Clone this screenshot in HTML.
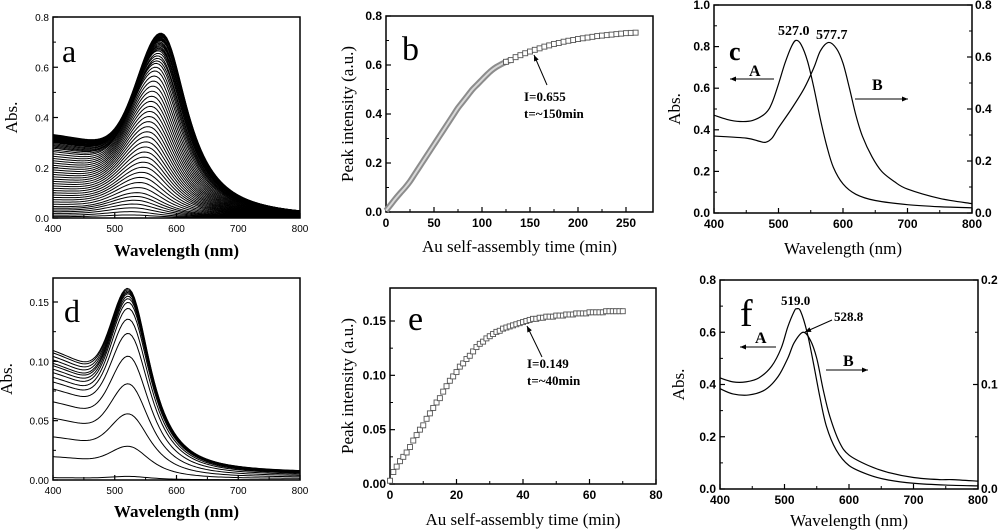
<!DOCTYPE html>
<html><head><meta charset="utf-8"><style>
html,body{margin:0;padding:0;background:#fff;}
svg{display:block;}
</style></head><body>
<svg id="fig" width="1000" height="532" viewBox="0 0 1000 532" xmlns="http://www.w3.org/2000/svg"></svg>
<script>
// ---- Panel a data: peak heights & peak wavelengths of spectra family ----
const aPeaks=[0.012,0.025,0.04,0.055,0.07,0.085,0.1,0.12,0.14,0.16,0.18,0.2,0.22,0.24,0.26,0.28,0.3,0.32,0.34,0.36,0.38,0.4,0.42,0.44,0.46,0.48,0.5,0.52,0.54,0.56,0.58,0.595,0.61,0.62,0.63,0.64,0.65,0.66,0.665,0.67,0.675,0.68,0.685,0.69,0.695,0.7,0.703,0.706,0.709,0.712,0.715,0.718,0.721,0.724,0.727,0.73];
const aPeakPos=[530,532,534,536,538,540,542,544,546,548,550,552,553,554,555,556,557,558,559,560,561,562,563,564,565,566,567,568,569,570,571,572,573,574,575,575,576,576,577,577,577,578,578,578,578,579,579,579,579,579,580,580,580,580,580,580];
// ---- Panel d data ----
const dPeaks=[0.003,0.028,0.055,0.08,0.103,0.122,0.134,0.143,0.148,0.151,0.153,0.155,0.156,0.157,0.158,0.159];
const dBase=[0.002,0.02,0.037,0.053,0.067,0.078,0.084,0.088,0.092,0.095,0.098,0.1,0.103,0.106,0.109,0.111];
// ---- Panel b data ----
const bTime=[0,5,10,15,20,25,30,35,40,45,50,55,60,65,70,75,80,85,90,95,100,105,110,115,120,125,130,135,140,145,150,155,160,165,170,175,180,185,190,195,200,205,210,215,220,225,230,235,240,245,250,255,260];
const bVal=[0.005,0.03,0.055,0.078,0.1,0.125,0.155,0.185,0.215,0.245,0.275,0.305,0.335,0.365,0.395,0.425,0.45,0.475,0.5,0.52,0.54,0.56,0.578,0.592,0.603,0.613,0.62,0.632,0.64,0.648,0.655,0.662,0.668,0.675,0.68,0.686,0.69,0.695,0.699,0.702,0.706,0.709,0.712,0.715,0.718,0.72,0.722,0.724,0.726,0.728,0.73,0.731,0.732];
// ---- Panel e data ----
const eTime=[0,1,2,3,4,5,6,7,8,9,10,11,12,13,14,15,16,17,18,19,20,21,22,23,24,25,26,27,28,29,30,31,32,33,34,35,36,37,38,39,40,41,42,43,44,45,46,47,48,49,50,51,52,53,54,55,56,57,58,59,60,61,62,63,64,65,66,67,68,69,70];
const eVal=[0.003,0.011,0.016,0.021,0.025,0.029,0.034,0.04,0.045,0.05,0.054,0.06,0.065,0.07,0.075,0.079,0.085,0.09,0.095,0.099,0.103,0.108,0.111,0.115,0.118,0.122,0.126,0.129,0.131,0.134,0.136,0.138,0.14,0.141,0.143,0.144,0.145,0.146,0.147,0.148,0.149,0.15,0.151,0.152,0.152,0.153,0.153,0.154,0.154,0.154,0.155,0.155,0.155,0.156,0.156,0.156,0.157,0.157,0.157,0.157,0.158,0.158,0.158,0.158,0.158,0.159,0.159,0.159,0.159,0.159,0.159];
// ---- Panel c data ----
const cAWl=[400,420,440,460,480,490,500,510,520,527,535,545,555,565,575,585,600,620,650,700,750,800];
const cAVal=[0.47,0.45,0.44,0.445,0.48,0.53,0.62,0.72,0.8,0.83,0.81,0.73,0.6,0.45,0.32,0.22,0.14,0.09,0.06,0.04,0.03,0.025];
const cBWl=[400,450,470,480,490,500,520,540,555,565,577.7,590,600,610,620,630,645,660,680,700,750,800];
const cBVal=[0.296,0.288,0.276,0.272,0.288,0.328,0.4,0.48,0.56,0.624,0.656,0.632,0.576,0.48,0.376,0.296,0.216,0.16,0.12,0.092,0.056,0.036];
// ---- Panel f data ----
const fAWl=[400,420,440,460,480,495,505,515,519,525,535,545,555,565,580,600,630,660,700,750,800];
const fAVal=[0.425,0.41,0.41,0.425,0.47,0.54,0.62,0.68,0.69,0.68,0.6,0.48,0.35,0.24,0.15,0.09,0.055,0.035,0.022,0.015,0.012];
const fBWl=[400,420,445,470,490,505,515,528.8,540,550,560,570,585,600,630,660,700,740,760,800];
const fBVal=[0.096,0.091,0.09,0.095,0.1075,0.125,0.14,0.15,0.1425,0.125,0.095,0.07,0.045,0.0325,0.0225,0.016,0.011,0.009,0.009,0.0075];

const NS='http://www.w3.org/2000/svg';
const svg=document.getElementById('fig');
function mk(tag,attrs,parent,text){const e=document.createElementNS(NS,tag);for(const k in attrs)e.setAttribute(k,attrs[k]);if(text!==undefined)e.textContent=text;(parent||svg).appendChild(e);return e;}
function scale(d0,d1,r0,r1){return v=>r0+(v-d0)*(r1-r0)/(d1-d0);}

function axes(g,o){
  const X=scale(o.xd[0],o.xd[1],o.x0,o.x1), Y=scale(o.yd[0],o.yd[1],o.y0,o.y1);
  const fr=mk('rect',{x:o.x0,y:o.top,width:o.right-o.x0,height:o.y0-o.top,fill:'none',stroke:'#000','stroke-width':1.5},g);
  
  
  const tf=o.bold?'font-family:"Liberation Sans",sans-serif;font-weight:bold;font-size:12px':'font-family:"Liberation Sans",sans-serif;font-size:10px';
  o.xt.forEach((v,i)=>{const px=X(v);
    mk('line',{x1:px,x2:px,y1:o.y0,y2:o.y0-5,stroke:'#000','stroke-width':1.2},g);
    if(i<o.xt.length-1){const pm=X(v+(o.xt[1]-o.xt[0])/2);if(pm<o.right)mk('line',{x1:pm,x2:pm,y1:o.y0,y2:o.y0-3,stroke:'#000'},g);}
    const t=mk('text',{x:px,y:o.y0+(o.bold?15:14),'text-anchor':'middle',style:tf},g,o.xfmt(v));
    
    
  });
  o.yt.forEach((v,i)=>{const py=Y(v);
    mk('line',{x1:o.x0,x2:o.x0+5,y1:py,y2:py,stroke:'#000','stroke-width':1.2},g);
    if(i<o.yt.length-1){const pm=Y(v+(o.yt[1]-o.yt[0])/2);if(pm>o.top)mk('line',{x1:o.x0,x2:o.x0+3,y1:pm,y2:pm,stroke:'#000'},g);}
    const t=mk('text',{x:o.x0-4,y:py+4,'text-anchor':'end',style:tf},g,o.yfmt(v));
    
    
  });
  const xt=mk('text',{x:(o.x0+o.right)/2,y:o.xtitleY,'text-anchor':'middle',style:"font-family:'Liberation Serif',serif;font-size:17px"+(o.titleBold?';font-weight:bold':'')},g,o.xtitle);
  
  
  const yt=mk('text',{x:0,y:0,'text-anchor':'middle',transform:`translate(${o.ytitleX},${(o.y0+o.top)/2}) rotate(-90)`,style:"font-family:'Liberation Serif',serif;font-size:17px"},g,o.ytitle);
  
  
  return {X,Y};
}
function letter(g,x,y,s,size,bold){const t=mk('text',{x:x,y:y,style:`font-family:'Liberation Serif',serif;font-size:${size}px${bold?';font-weight:bold':''}`},g,s);
  
  }
function ann(g,x,y,s,size){const t=mk('text',{x:x,y:y,style:`font-family:'Liberation Serif',serif;font-weight:bold;font-size:${size||13}px`},g,s);
  
  }
function arrow(g,x1,y1,x2,y2){
  const l=mk('line',{x1,y1,x2,y2,stroke:'#000','stroke-width':1},g);
  
  
  const a=Math.atan2(y2-y1,x2-x1),L=6,w=2.5;
  const p=[[x2,y2],[x2-L*Math.cos(a)+w*Math.sin(a),y2-L*Math.sin(a)-w*Math.cos(a)],[x2-L*Math.cos(a)-w*Math.sin(a),y2-L*Math.sin(a)+w*Math.cos(a)]];
  mk('polygon',{points:p.map(q=>q.join(',')).join(' '),fill:'#000'},g);
}
function line(g,xs,ys,X,Y,name,w,smooth){
  const P=xs.map((x,i)=>[X(x),Y(ys[i])]);
  let d='M'+P[0][0].toFixed(2)+','+P[0][1].toFixed(2);
  for(let i=0;i<P.length-1;i++){
    if(smooth){const p0=P[Math.max(i-1,0)],p1=P[i],p2=P[i+1],p3=P[Math.min(i+2,P.length-1)];
      const c1=[p1[0]+(p2[0]-p0[0])/6,p1[1]+(p2[1]-p0[1])/6],c2=[p2[0]-(p3[0]-p1[0])/6,p2[1]-(p3[1]-p1[1])/6];
      d+=`C${c1[0].toFixed(2)},${c1[1].toFixed(2)} ${c2[0].toFixed(2)},${c2[1].toFixed(2)} ${p2[0].toFixed(2)},${p2[1].toFixed(2)}`;}
    else d+='L'+P[i+1][0].toFixed(2)+','+P[i+1][1].toFixed(2);
  }
  const p=mk('path',{d,fill:'none',stroke:'#000','stroke-width':w||1,'stroke-linejoin':'round'},g);
  
  
  return p;
}
const fmt1=v=>v.toFixed(1), fmt0=v=>String(v), fmt2=v=>v.toFixed(2);
const wl=[];for(let l=400;l<=800;l+=4)wl.push(l);

function spec(l,pk,pos,b0,wl1,wr,slope,mid,sw){
  const base=x=>b0*(1-slope*(x-400)/80)/(1+Math.exp((x-mid)/sw));
  const A=Math.max(pk-base(pos),0);
  const d=l-pos;
  const p= d<0? A*Math.exp(-(d/wl1)*(d/wl1)) : A/(1+(d/wr)*(d/wr));
  return base(l)+p;
}

// ===== Panel a =====
{const g=mk('g',{});
 const {X,Y}=axes(g,{x0:53,x1:300,right:300,y0:218,y1:17,top:17,xd:[400,800],yd:[0,0.8],xt:[400,500,600,700,800],yt:[0,0.2,0.4,0.6,0.8],xfmt:fmt0,yfmt:fmt1,bold:false,xtitle:'Wavelength (nm)',xtitleY:256,ytitle:'Abs.',ytitleX:17,titleBold:true});
 aPeaks.forEach((pk,i)=>{const ys=wl.map(l=>spec(l,pk,aPeakPos[i],pk*0.46,58,48,0.06,560,35));line(g,wl,ys,X,Y,'spectrum-a',1);});
 letter(g,62,62,'a',32,false);}

// ===== Panel d =====
{const g=mk('g',{});
 const {X,Y}=axes(g,{x0:53,x1:300,right:300,y0:480,y1:302,top:278,xd:[400,800],yd:[0,0.15],xt:[400,500,600,700,800],yt:[0,0.05,0.1,0.15],xfmt:fmt0,yfmt:fmt2,bold:false,xtitle:'Wavelength (nm)',xtitleY:517,ytitle:'Abs.',ytitleX:12,titleBold:true});
 dPeaks.forEach((pk,i)=>{const c=dBase[i]*0.05;const ys=wl.map(l=>spec(l,pk-c,527,dBase[i]-c,42,40,0.1,520,30)+c);line(g,wl,ys,X,Y,'spectrum-d',1);});
 letter(g,64,322,'d',32,false);}

// ===== Panel b =====
{const g=mk('g',{});
 const {X,Y}=axes(g,{x0:386,x1:626,right:653,y0:212,y1:16,top:16,xd:[0,250],yd:[0,0.8],xt:[0,50,100,150,200,250],yt:[0,0.2,0.4,0.6,0.8],xfmt:fmt0,yfmt:fmt1,bold:true,xtitle:'Au self-assembly time (min)',xtitleY:252,ytitle:'Peak intensity (a.u.)',ytitleX:353});
 const dense=bTime.map((t,i)=>i).filter(i=>bTime[i]<=130);
 const band=line(g,dense.map(i=>bTime[i]),dense.map(i=>bVal[i]),X,Y,'dense-data-band',6,true);
 band.setAttribute('stroke','#8c8c8c');
 const band2=line(g,dense.map(i=>bTime[i]),dense.map(i=>bVal[i]),X,Y,'dense-data-core',2,true);
 band2.setAttribute('stroke','#d8d8d8');
 bTime.forEach((t,i)=>{if(t<125)return;const r=mk('rect',{x:X(t)-2.5,y:Y(bVal[i])-2.5,width:5,height:5,fill:'#fff',stroke:'#555','stroke-width':0.9},g);
   
   });
 letter(g,402,60,'b',34,false);
 arrow(g,547,85,534,55);
 ann(g,524,101,'I=0.655');ann(g,524,118,'t=~150min');}

// ===== Panel e =====
{const g=mk('g',{});
 const {X,Y}=axes(g,{x0:390,x1:656,right:656,y0:484,y1:321,top:288,xd:[0,80],yd:[0,0.15],xt:[0,20,40,60,80],yt:[0,0.05,0.1,0.15],xfmt:fmt0,yfmt:fmt2,bold:true,xtitle:'Au self-assembly time (min)',xtitleY:525,ytitle:'Peak intensity (a.u.)',ytitleX:353});
 eTime.forEach((t,i)=>{const r=mk('rect',{x:X(t)-2.5,y:Y(eVal[i])-2.5,width:5,height:5,fill:'#fff',stroke:'#555','stroke-width':0.9},g);
   
   });
 letter(g,408,330,'e',34,false);
 arrow(g,542,357,527,326);
 ann(g,527,368,'I=0.149');ann(g,527,385,'t=~40min');}

// ===== Panels c/f =====
function dual(g,o,rd,rt,rfmt){const A=axes(g,o);const YR=scale(rd[0],rd[1],o.y0,o.y1);
 rt.forEach((v,i)=>{const py=YR(v);mk('line',{x1:o.right,x2:o.right-5,y1:py,y2:py,stroke:'#000','stroke-width':1.2},g);
  if(i<rt.length-1){const pm=YR(v+(rt[1]-rt[0])/2);mk('line',{x1:o.right,x2:o.right-3,y1:pm,y2:pm,stroke:'#000'},g);}
  const t=mk('text',{x:o.right+3,y:py+4,style:'font-family:"Liberation Sans",sans-serif;font-weight:bold;font-size:12px'},g,rfmt(v));
  
  });
 return {X:A.X,Y:A.Y,YR};}
{const g=mk('g',{});
 const {X,Y,YR}=dual(g,{x0:714,x1:972,right:972,y0:213,y1:5,top:5,xd:[400,800],yd:[0,1],xt:[400,500,600,700,800],yt:[0,0.2,0.4,0.6,0.8,1.0],xfmt:fmt0,yfmt:fmt1,bold:true,xtitle:'Wavelength (nm)',xtitleY:254,ytitle:'Abs.',ytitleX:680},[0,0.8],[0,0.2,0.4,0.6,0.8],fmt1);
 line(g,cAWl,cAVal,X,Y,'curve-A',1.2,true);
 line(g,cBWl,cBVal,X,YR,'curve-B',1.2,true);
 ann(g,778,35,'527.0',14);ann(g,816,39,'577.7',14);
 letter(g,729,60,'c',26,true);
 ann(g,749,76,'A',16);arrow(g,774,79,730,79);
 ann(g,872,90,'B',16);arrow(g,855,99,908,99);}
{const g=mk('g',{});
 const {X,Y,YR}=dual(g,{x0:720,x1:978,right:978,y0:489,y1:280,top:280,xd:[400,800],yd:[0,0.8],xt:[400,500,600,700,800],yt:[0,0.2,0.4,0.6,0.8],xfmt:fmt0,yfmt:fmt1,bold:true,xtitle:'Wavelength (nm)',xtitleY:526,ytitle:'Abs.',ytitleX:684},[0,0.2],[0,0.1,0.2],fmt1);
 line(g,fAWl,fAVal,X,Y,'curve-A',1.2,true);
 line(g,fBWl,fBVal,X,YR,'curve-B',1.2,true);
 ann(g,781,305,'519.0',13);ann(g,834,321,'528.8',13);arrow(g,832,320,805,332);
 letter(g,740,326,'f',38,false);
 ann(g,755,343,'A',16);arrow(g,776,347,740,347);
 ann(g,843,366,'B',16);arrow(g,826,370,868,370);}
</script>
</body></html>
